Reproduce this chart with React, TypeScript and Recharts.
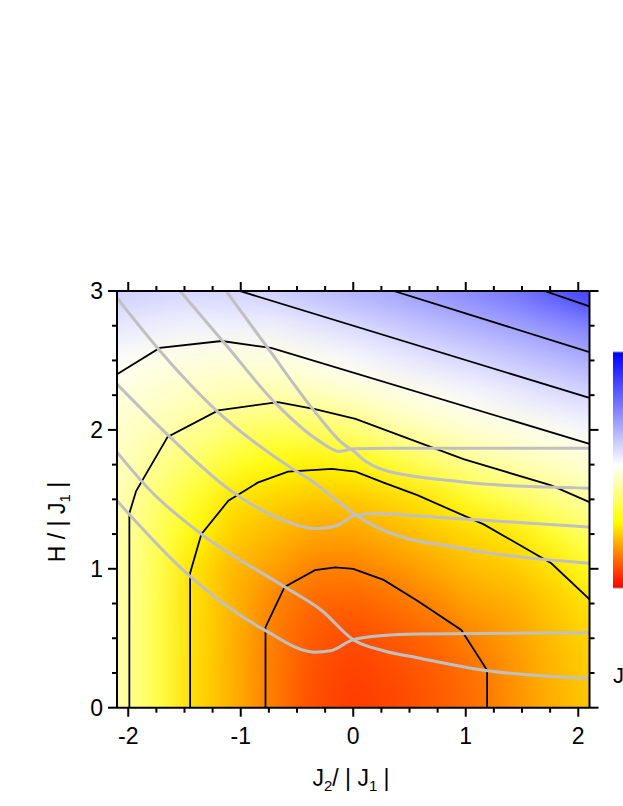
import React from 'react';
import { ComposedChart, Scatter, Line, XAxis, YAxis } from 'recharts';

// colour map grid (colour-bar fraction, 0 = red, 1 = blue)
const heatX = [-2.1, -1.75, -1.4, -1.05, -0.7, -0.35, 0, 0.35, 0.7, 1.05, 1.4, 1.75, 2.1];
const heatY = [0, 0.25, 0.5, 0.75, 1, 1.25, 1.5, 1.75, 2, 2.25, 2.5, 2.75, 3];
const heatRows = [
  [0.45, 0.35, 0.242, 0.19, 0.133, 0.085, 0.065, 0.075, 0.095, 0.118, 0.155, 0.19, 0.22],
  [0.45, 0.35, 0.242, 0.19, 0.134, 0.088, 0.07, 0.082, 0.1, 0.122, 0.16, 0.195, 0.225],
  [0.45, 0.35, 0.243, 0.192, 0.136, 0.097, 0.082, 0.097, 0.112, 0.143, 0.17, 0.205, 0.233],
  [0.45, 0.352, 0.244, 0.195, 0.142, 0.113, 0.105, 0.122, 0.145, 0.177, 0.19, 0.22, 0.247],
  [0.45, 0.356, 0.247, 0.2, 0.173, 0.141, 0.14, 0.158, 0.182, 0.207, 0.22, 0.245, 0.307],
  [0.45, 0.365, 0.275, 0.222, 0.202, 0.18, 0.179, 0.197, 0.217, 0.237, 0.255, 0.316, 0.371],
  [0.455, 0.385, 0.32, 0.248, 0.231, 0.218, 0.219, 0.235, 0.257, 0.311, 0.36, 0.398, 0.434],
  [0.465, 0.415, 0.37, 0.315, 0.279, 0.266, 0.274, 0.322, 0.372, 0.42, 0.442, 0.459, 0.478],
  [0.475, 0.449, 0.42, 0.386, 0.363, 0.369, 0.39, 0.434, 0.456, 0.474, 0.491, 0.509, 0.531],
  [0.49, 0.473, 0.458, 0.445, 0.44, 0.452, 0.468, 0.488, 0.507, 0.529, 0.551, 0.574, 0.596],
  [0.52, 0.497, 0.49, 0.485, 0.489, 0.505, 0.527, 0.549, 0.571, 0.594, 0.619, 0.645, 0.672],
  [0.565, 0.55, 0.54, 0.545, 0.547, 0.568, 0.59, 0.616, 0.642, 0.667, 0.693, 0.722, 0.753],
  [0.61, 0.605, 0.6, 0.605, 0.615, 0.64, 0.666, 0.69, 0.718, 0.747, 0.777, 0.83, 0.89],
];

// black contour lines [J2, H]
const contourG = [[-0.78, 0], [-0.78, 0.58], [-0.61, 0.87], [-0.34, 0.99], [-0.16, 1.01], [0, 1.0], [0.27, 0.92], [0.57, 0.77], [0.96, 0.56], [1.19, 0.27], [1.19, 0]];
const contourF = [[-1.45, 0], [-1.45, 0.97], [-1.35, 1.25], [-1.11, 1.49], [-0.85, 1.62], [-0.58, 1.7], [-0.19, 1.72], [0.02, 1.7], [0.27, 1.62], [0.57, 1.53], [1.16, 1.32], [1.76, 1.04], [2.1, 0.78]];
const contourE = [[-1.99, 0], [-1.99, 1.4], [-1.93, 1.56], [-1.65, 1.95], [-1.2, 2.14], [-0.67, 2.2], [-0.34, 2.15], [0.02, 2.08], [0.98, 1.79], [1.76, 1.6], [2.1, 1.48]];
const contourD = [[-2.1, 2.4], [-1.72, 2.59], [-1.17, 2.64], [-0.73, 2.59], [2.1, 1.9]];
const contourA = [[-1.01, 3], [2.1, 2.23]];
const contourB = [[0.36, 3], [2.1, 2.56]];
const contourC = [[1.7, 3], [2.1, 2.89]];

// grey curves [J2, H]
const grayT1 = [[-1.13, 3.0], [-0.76, 2.59], [-0.34, 2.13], [-0.09, 1.9], [0, 1.85], [0.1, 1.78], [0.21, 1.73], [0.51, 1.67], [0.81, 1.64], [1.16, 1.61], [2.1, 1.58]];
const grayT2 = [[-1.54, 3.0], [-1.14, 2.62], [-0.7, 2.2], [-0.32, 1.93], [-0.12, 1.845], [0, 1.865], [0.3, 1.868], [2.1, 1.868]];
const grayM1 = [[-2.1, 2.95], [-1.74, 2.59], [-1.23, 2.15], [-0.52, 1.71], [-0.38, 1.64], [-0.19, 1.52], [0, 1.4], [0.21, 1.3], [0.57, 1.2], [0.81, 1.17], [1.16, 1.12], [2.1, 1.04]];
const grayM2 = [[-2.1, 2.33], [-1.63, 1.95], [-1.1, 1.57], [-0.68, 1.37], [-0.32, 1.29], [-0.15, 1.31], [0, 1.38], [0.21, 1.4], [0.57, 1.38], [1.16, 1.35], [2.1, 1.3]];
const grayB1 = [[-2.1, 1.84], [-1.8, 1.56], [-1.35, 1.25], [-0.61, 0.87], [-0.28, 0.7], [0, 0.49], [0.27, 0.41], [0.57, 0.36], [1.16, 0.27], [2.1, 0.21]];
const grayB2 = [[-2.1, 1.49], [-1.47, 0.96], [-0.79, 0.56], [-0.34, 0.4], [-0.2, 0.41], [0, 0.49], [0.27, 0.52], [0.57, 0.53], [2.1, 0.54]];

const xTicks = [-2, -1.75, -1.5, -1.25, -1, -0.75, -0.5, -0.25, 0, 0.25, 0.5, 0.75, 1, 1.25, 1.5, 1.75, 2];
const yTicks = [0, 0.25, 0.5, 0.75, 1, 1.25, 1.5, 1.75, 2, 2.25, 2.5, 2.75, 3];

const colorStops: [number, number[]][] = [
  [0, [255, 0, 0]],
  [0.28, [255, 255, 0]],
  [0.52, [255, 255, 255]],
  [1, [0, 0, 255]],
];

const FONT = '"Liberation Sans", Arial, sans-serif';
const W = 615;
const H = 790;
const margin = { top: 263, right: 13.5, bottom: 30.3, left: 49 };
const PLOT_W = W - margin.left - margin.right - 60 - 20;
const PLOT_H = H - margin.top - margin.bottom - 20 - 60;
const PX_X = PLOT_W / 4.2;
const PX_Y = PLOT_H / 3;

function colorOf(c: number) {
  for (let k = 1; k < colorStops.length; k++) {
    const [c1, rgb1] = colorStops[k];
    const [c0, rgb0] = colorStops[k - 1];
    if (c <= c1 || k === colorStops.length - 1) {
      const t = Math.max(0, Math.min(1, (c - c0) / (c1 - c0)));
      const ch = rgb0.map((v, i) => Math.round(v + (rgb1[i] - v) * t));
      return `rgb(${ch[0]},${ch[1]},${ch[2]})`;
    }
  }
  return '#fff';
}

const heatData = heatRows.flatMap((row, j) =>
  row.map((c, i) => ({ x: heatX[i], y: heatY[j], c, i, j }))
);

const toPts = (arr: number[][]) => arr.map(([x, y]) => ({ x, y }));

const HeatCell = (props: any) => {
  const { cx, cy, payload } = props;
  const w = (heatX[1] - heatX[0]) * PX_X;
  const h = (heatY[1] - heatY[0]) * PX_Y;
  const ext = 60;
  const l = payload.i === 0 ? ext : 0;
  const r = payload.i === heatX.length - 1 ? ext : 0;
  const b = payload.j === 0 ? ext : 0;
  const t = payload.j === heatY.length - 1 ? ext : 0;
  return (
    <rect
      x={cx - w / 2 - l}
      y={cy - h / 2 - t}
      width={w + l + r + 0.6}
      height={h + t + b + 0.6}
      fill={colorOf(payload.c)}
    />
  );
};

const isMajor = (v: number) => Math.abs(v - Math.round(v)) < 1e-6;

const BottomTick = (props: any) => {
  const { x, y, payload } = props;
  const major = isMajor(payload.value);
  return (
    <g>
      <line x1={x} x2={x} y1={y} y2={y + (major ? 9 : 5)} stroke="#000" strokeWidth={2} />
      {major && (
        <text x={x} y={y + 36} textAnchor="middle" fontSize={23} fontFamily={FONT} fill="#000">
          {String(payload.value)}
        </text>
      )}
    </g>
  );
};

const TopTick = (props: any) => {
  const { x, y, payload } = props;
  const major = isMajor(payload.value);
  return <line x1={x} x2={x} y1={y} y2={y - (major ? 9 : 5)} stroke="#000" strokeWidth={2} />;
};

const LeftTick = (props: any) => {
  const { x, y, payload } = props;
  const major = isMajor(payload.value);
  return (
    <g>
      <line x1={x} x2={x - (major ? 9 : 5)} y1={y} y2={y} stroke="#000" strokeWidth={2} />
      {major && (
        <text x={x - 14} y={y + 8} textAnchor="end" fontSize={23} fontFamily={FONT} fill="#000">
          {String(payload.value)}
        </text>
      )}
    </g>
  );
};

const RightTick = (props: any) => {
  const { x, y, payload } = props;
  const major = isMajor(payload.value);
  return <line x1={x} x2={x + (major ? 9 : 5)} y1={y} y2={y} stroke="#000" strokeWidth={2} />;
};

const blackLines = [contourG, contourF, contourE, contourD, contourA, contourB, contourC];
const grayLines = [grayT1, grayT2, grayM1, grayM2, grayB1, grayB2];

export default function App() {
  const axisLine = { stroke: '#000', strokeWidth: 2 };
  return (
    <div style={{ position: 'relative', width: 623, height: 806 }}>
      <style>{`html { overflow: hidden; } body { margin: 0; } .recharts-scatter { filter: url(#heatBlur); }`}</style>
      <svg width={0} height={0} style={{ position: 'absolute' }}>
        <defs>
          <filter id="heatBlur" x="-0.2" y="-0.2" width="1.4" height="1.4" colorInterpolationFilters="sRGB">
            <feGaussianBlur stdDeviation={15} />
          </filter>
        </defs>
      </svg>
      <div style={{ position: 'absolute', left: 8, top: 8 }}>
        <ComposedChart width={W} height={H} margin={margin}>
          <Scatter
            data={heatData}
            dataKey="y"
            xAxisId="b"
            yAxisId="l"
            shape={HeatCell}
            isAnimationActive={false}
            zIndex={50}
          />
          {blackLines.map((pts, k) => (
            <Line
              key={`c${k}`}
              data={toPts(pts)}
              dataKey="y"
              xAxisId="b"
              yAxisId="l"
              type="linear"
              stroke="#000"
              strokeWidth={1.8}
              dot={false}
              activeDot={false}
              isAnimationActive={false}
              zIndex={400}
            />
          ))}
          {grayLines.map((pts, k) => (
            <Line
              key={`g${k}`}
              data={toPts(pts)}
              dataKey="y"
              xAxisId="b"
              yAxisId="l"
              type="monotone"
              stroke="#c0c0c0"
              strokeWidth={3}
              dot={false}
              activeDot={false}
              isAnimationActive={false}
              zIndex={450}
            />
          ))}
          <XAxis
            xAxisId="b"
            dataKey="x"
            type="number"
            orientation="bottom"
            domain={[-2.1, 2.1]}
            allowDataOverflow
            ticks={xTicks}
            interval={0}
            tickSize={0}
            tickMargin={0}
            tickLine={false}
            tick={BottomTick}
            axisLine={axisLine}
            height={60}
          />
          <XAxis
            xAxisId="t"
            dataKey="x"
            type="number"
            orientation="top"
            domain={[-2.1, 2.1]}
            allowDataOverflow
            ticks={xTicks}
            interval={0}
            tickSize={0}
            tickMargin={0}
            tickLine={false}
            tick={TopTick}
            axisLine={axisLine}
            height={20}
          />
          <YAxis
            yAxisId="l"
            type="number"
            orientation="left"
            domain={[0, 3]}
            allowDataOverflow
            ticks={yTicks}
            interval={0}
            tickSize={0}
            tickMargin={0}
            tickLine={false}
            tick={LeftTick}
            axisLine={axisLine}
            width={60}
          />
          <YAxis
            yAxisId="r"
            type="number"
            orientation="right"
            domain={[0, 3]}
            allowDataOverflow
            ticks={yTicks}
            interval={0}
            tickSize={0}
            tickMargin={0}
            tickLine={false}
            tick={RightTick}
            axisLine={axisLine}
            width={20}
          />
        </ComposedChart>
      </div>
      {/* colour bar, its label and the axis titles, in page coordinates */}
      <svg
        width={623}
        height={806}
        style={{ position: 'absolute', left: 0, top: 0, pointerEvents: 'none' }}
      >
        <defs>
          <linearGradient id="cbar" x1="0" y1="1" x2="0" y2="0">
            {colorStops.map(([c, rgb]) => (
              <stop key={c} offset={c} stopColor={`rgb(${rgb.join(',')})`} />
            ))}
          </linearGradient>
        </defs>
        <rect x={613} y={352} width={12} height={236} fill="url(#cbar)" />
        <line x1={613} x2={625} y1={352} y2={352} stroke="#909090" strokeWidth={1} />
        <line x1={613} x2={625} y1={588} y2={588} stroke="#909090" strokeWidth={1} />
        <text x={613} y={683} fontSize={22} fontFamily={FONT} fill="#000">J</text>
        <text x={351} y={786} textAnchor="middle" fontSize={23} fontFamily={FONT} fill="#000" style={{ whiteSpace: 'pre' }}>
          <tspan>J</tspan>
          <tspan fontSize={15} dy={5}>2</tspan>
          <tspan dy={-5}>{'/ | J'}</tspan>
          <tspan fontSize={15} dy={5}>1</tspan>
          <tspan dy={-5}>{' |'}</tspan>
        </text>
        <text
          transform="translate(65,522) rotate(-90)"
          x={0}
          y={0}
          textAnchor="middle"
          fontSize={23}
          fontFamily={FONT}
          fill="#000"
          style={{ whiteSpace: 'pre' }}
        >
          <tspan>{'H / | J'}</tspan>
          <tspan fontSize={15} dy={5}>1</tspan>
          <tspan dy={-5}>{' |'}</tspan>
        </text>
      </svg>
    </div>
  );
}
